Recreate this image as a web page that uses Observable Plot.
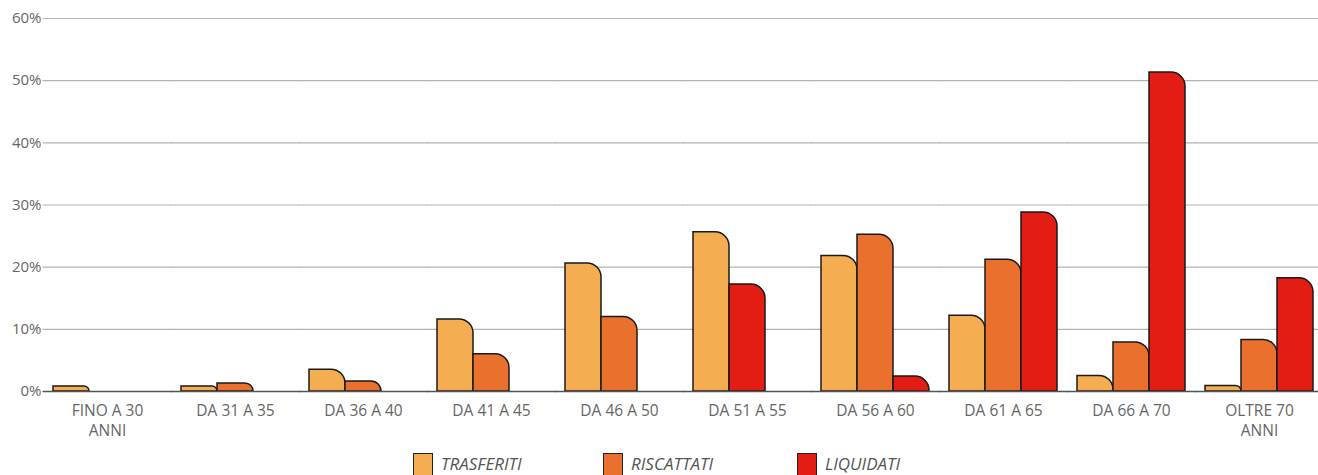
<!DOCTYPE html>
<html><head><meta charset="utf-8">
<script src="https://cdn.jsdelivr.net/npm/d3@7"></script>
<script src="https://cdn.jsdelivr.net/npm/@observablehq/plot@0.6"></script>
<style>
body{margin:0;background:#fff;font-family:"Open Sans",sans-serif;}
#wrap{position:relative;width:1318px;height:475px;overflow:hidden;}
#legend{position:absolute;left:0;top:453px;width:1318px;height:30px;}
.item{position:absolute;top:0;display:flex;align-items:flex-start;}
.sw{width:18px;height:24px;border:1.5px solid #222;box-sizing:content-box;}
.lab{margin-left:8px;font-style:italic;font-size:17px;color:#555;line-height:22px;margin-top:0px;}
</style>
</head><body><div id="wrap"><div id="chart"></div><div id="legend"></div></div>
<script>
const groups = ["FINO A 30\nANNI","DA 31 A 35","DA 36 A 40","DA 41 A 45","DA 46 A 50","DA 51 A 55","DA 56 A 60","DA 61 A 65","DA 66 A 70","OLTRE 70\nANNI"];
const seriesNames = ["TRASFERITI","RISCATTATI","LIQUIDATI"];
const trasferiti = [0.8, 0.8, 3.5, 11.6, 20.6, 25.6, 21.8, 12.2, 2.5, 0.9];
const riscattati = [0, 1.3, 1.6, 6.0, 12.0, 0, 25.2, 21.2, 7.9, 8.3];
const liquidati  = [0, 0, 0, 0, 0, 17.2, 2.4, 28.8, 51.3, 18.2];
const colors = ["#f5ad52","#ea702e","#e31c14"];
const yTicks = [0,10,20,30,40,50,60];
const legendX = [413, 603, 797];

const seriesValues = [trasferiti, riscattati, liquidati];
// non-zero bars of a group are packed side by side, in series order
const data = groups.flatMap((g,i) => {
  let slot = 0;
  return seriesNames.flatMap((s,j) => {
    const v = seriesValues[j][i];
    return v > 0 ? [{group:g, series:s, value:v, slot:slot++}] : [];
  });
});

const chart = Plot.plot({
  width:1318, height:448,
  marginLeft:48, marginRight:0, marginTop:18, marginBottom:57,
  style:{fontFamily:"Open Sans", background:"#fff", fontSize:"15px"},
  fx:{domain:groups, paddingInner:0.156, paddingOuter:0.03, label:null},
  x:{domain:[0,1,2], padding:0, axis:null},
  y:{domain:[0,60], axis:null},
  color:{domain:seriesNames, range:colors},
  marks:[
    Plot.ruleY(yTicks.slice(1), {stroke:"#b3b3b3", strokeWidth:1.2, insetLeft:-10.5, insetRight:-10.5}),
    Plot.barY(data, {fx:"group", x:"slot", y:"value", fill:"series", stroke:"#1a1a1a", strokeWidth:1.5, rx2y1:14}),
    Plot.ruleY([0], {stroke:"#555", strokeWidth:1.5, insetLeft:-10.5, insetRight:-10.5}),
    Plot.axisY({ticks:yTicks, tickSize:0, tickPadding:12, tickFormat:d => d + "%", fill:"#666", fontSize:15, label:null}),
    Plot.axisFx({anchor:"bottom", tickSize:0, tickPadding:11, fill:"#666", fontSize:15.5, lineHeight:1.25, label:null})
  ]
});
document.getElementById("chart").appendChild(chart);

const legend = document.getElementById("legend");
seriesNames.forEach((s,i) => {
  const it = document.createElement("div");
  it.className = "item";
  it.style.left = legendX[i] + "px";
  it.innerHTML = `<div class="sw" style="background:${colors[i]}"></div><div class="lab">${s}</div>`;
  legend.appendChild(it);
});
</script></body></html>
